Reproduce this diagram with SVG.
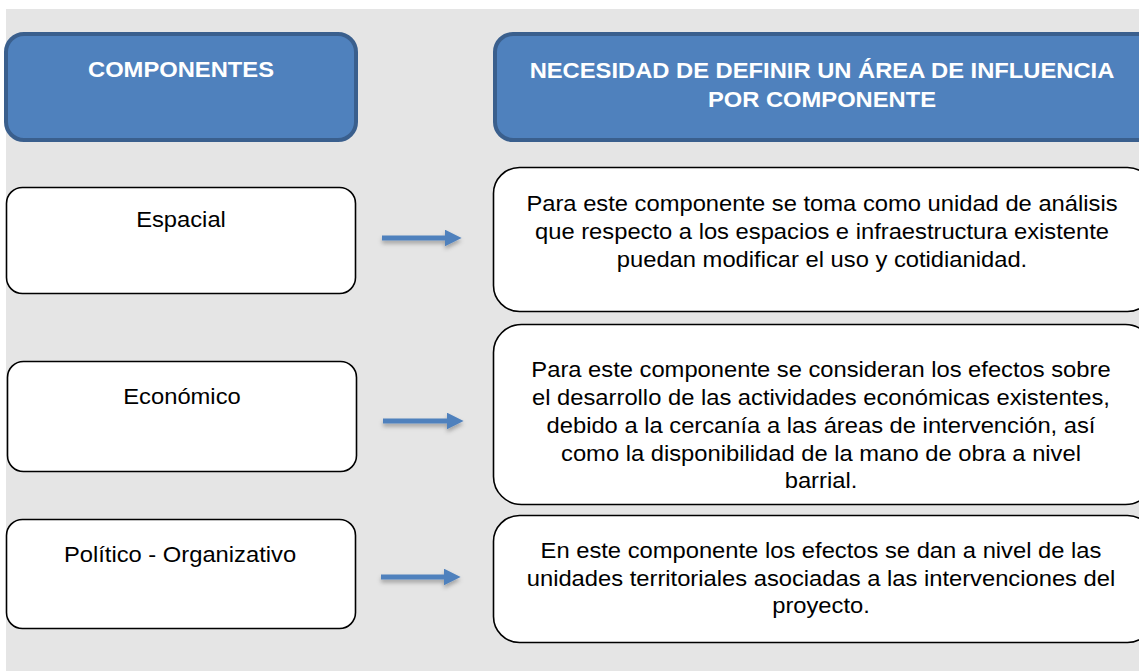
<svg xmlns="http://www.w3.org/2000/svg" width="1139" height="671" viewBox="0 0 1139 671">
<style>
.hdr{fill:#4f81bd;stroke:#3a5f8d;stroke-width:4}
.box{fill:#ffffff;stroke:#000000;stroke-width:1.6}
.ht{font-family:"Liberation Sans",Arial,sans-serif;font-weight:bold;font-size:22px;fill:#ffffff;text-anchor:middle}
.bt{font-family:"Liberation Sans",Arial,sans-serif;font-size:22px;fill:#000000;text-anchor:middle}
.arr{stroke:#4f81bd;stroke-width:5;fill:none;marker-end:url(#ah)}
</style>
<defs>
<marker id="ah" viewBox="0 0 10 10" refX="2" refY="5" markerWidth="3.4" markerHeight="3.4" markerUnits="strokeWidth" orient="auto">
<path d="M0,0 L10,5 L0,10 Z" fill="#4f81bd"/>
</marker>
<filter id="sh" filterUnits="userSpaceOnUse" x="0" y="0" width="1139" height="671">
<feDropShadow dx="0" dy="3" stdDeviation="2" flood-color="#000" flood-opacity="0.3"/>
</filter>
</defs>
<rect x="6" y="9" width="1133" height="662" fill="#e5e5e5"/>
<g id="header-componentes">
<rect class="hdr" x="6" y="34" width="350" height="106" rx="18"/>
<text class="ht" x="181" y="77" transform="translate(181,0) scale(1.08,1) translate(-181,0)">COMPONENTES</text>
</g>
<g id="header-necesidad">
<rect class="hdr" x="495" y="34" width="660" height="106" rx="18"/>
<text class="ht" transform="translate(822,0) scale(1.08,1) translate(-822,0)"><tspan x="822" y="78">NECESIDAD DE DEFINIR UN ÁREA DE INFLUENCIA</tspan><tspan x="822" y="107">POR COMPONENTE</tspan></text>
</g>
<g id="espacial">
<rect class="box" x="6.5" y="187.5" width="349" height="106" rx="16"/>
<text class="bt" x="181" y="227" transform="translate(181,0) scale(1.08,1) translate(-181,0)">Espacial</text>
</g>
<g id="economico">
<rect class="box" x="7.5" y="361.5" width="349" height="110" rx="16"/>
<text class="bt" x="182" y="404" transform="translate(182,0) scale(1.08,1) translate(-182,0)">Económico</text>
</g>
<g id="politico">
<rect class="box" x="6.5" y="519.5" width="349" height="109" rx="16"/>
<text class="bt" x="180" y="562" transform="translate(180,0) scale(1.08,1) translate(-180,0)">Político - Organizativo</text>
</g>
<g id="desc-espacial">
<rect class="box" x="493.5" y="167.5" width="660" height="144" rx="26"/>
<text class="bt" transform="translate(822,0) scale(1.08,1) translate(-822,0)"><tspan x="822" y="211">Para este componente se toma como unidad de análisis</tspan><tspan x="822" y="239">que respecto a los espacios e infraestructura existente</tspan><tspan x="822" y="267">puedan modificar el uso y cotidianidad.</tspan></text>
</g>
<g id="desc-economico">
<rect class="box" x="493.5" y="324.5" width="660" height="180" rx="28"/>
<text class="bt" transform="translate(821,0) scale(1.08,1) translate(-821,0)"><tspan x="821" y="377">Para este componente se consideran los efectos sobre</tspan><tspan x="821" y="405">el desarrollo de las actividades económicas existentes,</tspan><tspan x="821" y="433">debido a la cercanía a las áreas de intervención, así</tspan><tspan x="821" y="461">como la disponibilidad de la mano de obra a nivel</tspan><tspan x="821" y="488">barrial.</tspan></text>
</g>
<g id="desc-politico">
<rect class="box" x="493.5" y="515.5" width="660" height="127" rx="26"/>
<text class="bt" transform="translate(821,0) scale(1.08,1) translate(-821,0)"><tspan x="821" y="558">En este componente los efectos se dan a nivel de las</tspan><tspan x="821" y="586">unidades territoriales asociadas a las intervenciones del</tspan><tspan x="821" y="613">proyecto.</tspan></text>
</g>
<g id="connectors" filter="url(#sh)">
<line class="arr" x1="382" y1="238" x2="448" y2="238"/>
<line class="arr" x1="383" y1="421" x2="450" y2="421"/>
<line class="arr" x1="381" y1="577" x2="447" y2="577"/>
</g>
</svg>
